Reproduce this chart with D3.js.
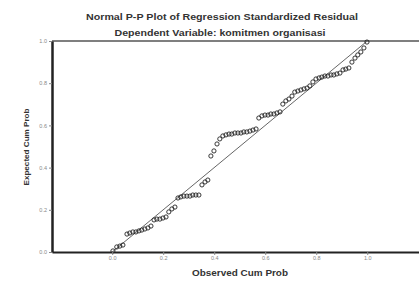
<!DOCTYPE html>
<html>
<head>
<meta charset="utf-8">
<script src="https://cdn.jsdelivr.net/npm/d3@7"></script>
<style>
  body { margin: 0; background: #fff; }
  svg { display: block; font-family: "Liberation Sans", Arial, sans-serif; }
  .title { font-weight: bold; fill: #333; }
  .axis-label { font-weight: bold; fill: #333; }
  .tick text { fill: #888; font-size: 5.5px; }
</style>
</head>
<body>
<div id="chart"></div>
<script>
const width = 419, height = 282;

// observed cumulative probability (x) and expected cumulative probability (y)
const observed = [0.003, 0.018, 0.030, 0.042, 0.058, 0.069, 0.081, 0.093, 0.105, 0.116,
  0.128, 0.140, 0.152, 0.164, 0.175, 0.187, 0.199, 0.211, 0.222, 0.234,
  0.246, 0.258, 0.269, 0.281, 0.293, 0.305, 0.316, 0.328, 0.340, 0.352,
  0.364, 0.375, 0.387, 0.399, 0.411, 0.422, 0.434, 0.446, 0.458, 0.469,
  0.481, 0.493, 0.505, 0.516, 0.528, 0.540, 0.552, 0.564, 0.575, 0.587,
  0.599, 0.611, 0.622, 0.634, 0.646, 0.658, 0.669, 0.681, 0.693, 0.705,
  0.716, 0.728, 0.740, 0.752, 0.764, 0.775, 0.787, 0.799, 0.811, 0.822,
  0.834, 0.846, 0.858, 0.869, 0.881, 0.893, 0.905, 0.916, 0.928, 0.940,
  0.952, 0.963, 0.975, 0.987, 0.999];
const expected = [0.005, 0.024, 0.028, 0.033, 0.085, 0.090, 0.095, 0.095, 0.100, 0.104,
  0.109, 0.114, 0.123, 0.152, 0.156, 0.156, 0.161, 0.166, 0.190, 0.204,
  0.213, 0.256, 0.261, 0.265, 0.265, 0.265, 0.270, 0.270, 0.270, 0.318,
  0.332, 0.341, 0.455, 0.479, 0.512, 0.536, 0.550, 0.555, 0.559, 0.559,
  0.564, 0.564, 0.564, 0.569, 0.569, 0.573, 0.578, 0.583, 0.635, 0.645,
  0.649, 0.649, 0.654, 0.654, 0.659, 0.664, 0.701, 0.716, 0.725, 0.739,
  0.758, 0.763, 0.768, 0.773, 0.777, 0.787, 0.806, 0.820, 0.825, 0.829,
  0.834, 0.834, 0.839, 0.839, 0.844, 0.848, 0.863, 0.867, 0.872, 0.900,
  0.919, 0.934, 0.948, 0.967, 0.995];
const xTicks = [0.0, 0.2, 0.4, 0.6, 0.8, 1.0];
const yTicks = [0.0, 0.2, 0.4, 0.6, 0.8, 1.0];

const data = observed.map((o, i) => ({ obs: o, exp: expected[i] }));

const svg = d3.select("#chart").append("svg")
  .attr("width", width)
  .attr("height", height);

// plot frame: left edge 52, right edge 419, top 41, bottom 252
const x = d3.scaleLinear().domain([-0.236, 1.203]).range([52, 419]);
const y = d3.scaleLinear().domain([0, 1]).range([252, 41]);

// titles (the original is stretched a little horizontally)
svg.append("text").attr("class", "title")
  .attr("x", 222).attr("y", 20).attr("text-anchor", "middle")
  .style("font-size", "9px")
  .attr("textLength", 272).attr("lengthAdjust", "spacingAndGlyphs")
  .text("Normal P-P Plot of Regression Standardized Residual");
svg.append("text").attr("class", "title")
  .attr("x", 220).attr("y", 36).attr("text-anchor", "middle")
  .style("font-size", "9px")
  .attr("textLength", 211).attr("lengthAdjust", "spacingAndGlyphs")
  .text("Dependent Variable: komitmen organisasi");

// top frame line
svg.append("line")
  .attr("x1", 52).attr("x2", 419).attr("y1", 41).attr("y2", 41)
  .attr("stroke", "#555").attr("stroke-width", 1.5);

// reference diagonal
svg.append("line")
  .attr("x1", x(0)).attr("y1", y(0)).attr("x2", x(1)).attr("y2", y(1))
  .attr("stroke", "#666").attr("stroke-width", 1);

// points
svg.append("g").selectAll("circle")
  .data(data)
  .join("circle")
    .attr("cx", d => x(d.obs))
    .attr("cy", d => y(d.exp))
    .attr("r", 2.1)
    .attr("fill", "none")
    .attr("stroke", "#222")
    .attr("stroke-width", 0.9);

// axes
const bottomAxis = d3.axisBottom(x).tickValues(xTicks)
  .tickFormat(d3.format(".1f")).tickSize(3).tickSizeOuter(0);
const leftAxis = d3.axisLeft(y).tickValues(yTicks)
  .tickFormat(d3.format(".1f")).tickSize(3).tickSizeOuter(0);

const gx = svg.append("g")
  .attr("transform", "translate(0,252)")
  .call(bottomAxis);
gx.select(".domain").attr("stroke", "#222").attr("stroke-width", 2);
gx.selectAll(".tick line").attr("stroke", "#888");
gx.selectAll(".tick text").attr("dy", "0.9em").attr("y", 3);

const gy = svg.append("g")
  .attr("transform", "translate(52,0)")
  .call(leftAxis);
gy.select(".domain").attr("stroke", "#222").attr("stroke-width", 2.5);
gy.selectAll(".tick line").attr("stroke", "#888");
gy.selectAll(".tick text").attr("x", -5);

// axis labels
svg.append("text").attr("class", "axis-label")
  .attr("x", 240).attr("y", 276).attr("text-anchor", "middle")
  .style("font-size", "8.5px")
  .attr("textLength", 96).attr("lengthAdjust", "spacingAndGlyphs")
  .text("Observed Cum Prob");
svg.append("text").attr("class", "axis-label")
  .attr("transform", "translate(29,147) rotate(-90)")
  .attr("text-anchor", "middle")
  .style("font-size", "7.5px")
  .attr("textLength", 77).attr("lengthAdjust", "spacingAndGlyphs")
  .text("Expected Cum Prob");
</script>
</body>
</html>
